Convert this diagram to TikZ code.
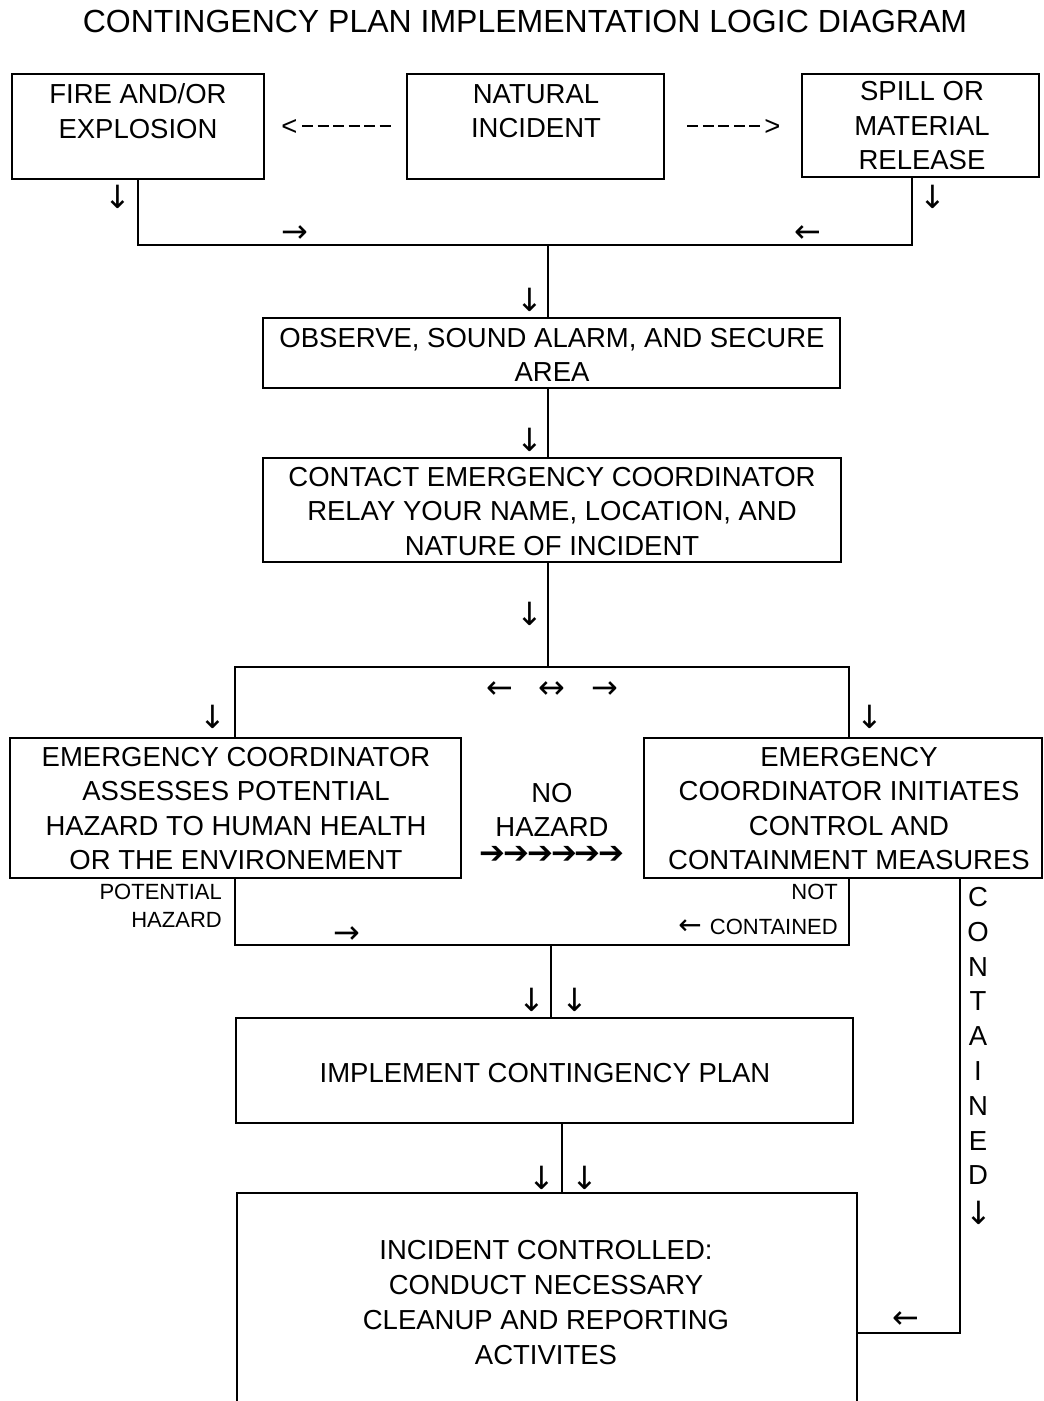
\documentclass[tikz,border=0pt]{standalone}
\usepackage{fontspec}
\setmainfont{Liberation Sans}
\newfontfamily\arrowfont{DejaVu Sans}
\newcommand{\dsh}{\kern4.5pt\rule[8pt]{11pt}{1.8pt}}
\begin{document}
\begin{tikzpicture}[x=1pt,y=-1pt,
  box/.style={draw, line width=1.6pt, inner sep=0pt},
  txt/.style={font=\fontsize{27.5}{34.5}\selectfont, align=center, inner sep=0pt},
  small/.style={font=\fontsize{22}{28}\selectfont, inner sep=0pt},
  arr/.style={font=\arrowfont\fontsize{32}{32}\selectfont, inner sep=0pt},
  conn/.style={line width=1.6pt}]
\useasboundingbox (0,0) rectangle (1044,1401);

% title
\node[font=\fontsize{32}{36}\selectfont, inner sep=0pt] (title) at (525,21) {CONTINGENCY PLAN IMPLEMENTATION LOGIC DIAGRAM};

% boxes
\node[box, minimum width=252, minimum height=105] (fire) at (138,126.5) {};
\node[box, minimum width=257, minimum height=105] (natural) at (535.5,126.5) {};
\node[box, minimum width=237, minimum height=103] (spill) at (920.5,125.5) {};
\node[box, minimum width=577, minimum height=70] (observe) at (551.5,353) {};
\node[box, minimum width=578, minimum height=104] (contact) at (552,510) {};
\node[box, minimum width=451, minimum height=140] (assess) at (235.5,808) {};
\node[box, minimum width=398, minimum height=140] (initiate) at (843,808) {};
\node[box, minimum width=617, minimum height=105] (implement) at (544.5,1070.5) {};
\node[box, minimum width=620, minimum height=230] (incident) at (547,1308) {};

% box texts
\node[txt] (firet) at (138,111) {FIRE AND/OR\\EXPLOSION};
\node[txt] (naturalt) at (536,111) {NATURAL\\INCIDENT};
\node[txt] (spillt) at (922,126) {SPILL OR\\MATERIAL\\RELEASE};
\node[txt] (observet) at (552,355) {OBSERVE, SOUND ALARM, AND SECURE\\AREA};
\node[txt] (contactt) at (552,511.5) {CONTACT EMERGENCY COORDINATOR\\RELAY YOUR NAME, LOCATION, AND\\NATURE OF INCIDENT};
\node[txt] (assesst) at (236,808.5) {EMERGENCY COORDINATOR\\ASSESSES POTENTIAL\\HAZARD TO HUMAN HEALTH\\OR THE ENVIRONEMENT};
\node[txt] (initiatet) at (849,808.5) {EMERGENCY\\COORDINATOR INITIATES\\CONTROL AND\\CONTAINMENT MEASURES};
\node[txt] (implementt) at (545,1073) {IMPLEMENT CONTINGENCY PLAN};
\node[txt, font=\fontsize{27.5}{35}\selectfont] (incidentt) at (546,1303) {INCIDENT CONTROLLED:\\CONDUCT NECESSARY\\CLEANUP AND REPORTING\\ACTIVITES};

% dashed text arrows
\node[txt] (dl) at (336,127) {<\dsh\dsh\dsh\dsh\dsh\dsh};
\node[txt] (dr) at (734,127) {\rule[8pt]{11pt}{1.8pt}\dsh\dsh\dsh\dsh\kern4pt>};

% labels
\node[txt] (nohaz) at (552,810) {NO\\HAZARD};
\node[font=\arrowfont\fontsize{31}{31}\selectfont, inner sep=0pt] (bold) at (552,855) {➔\kern-2pt➔\kern-2pt➔\kern-2pt➔\kern-2pt➔\kern-2pt➔};
\node[small, align=right, anchor=east] (pot) at (222,906) {POTENTIAL\\HAZARD};
\node[small, anchor=east] (nott) at (838,892) {NOT};
\node[small, anchor=east] (cont) at (838,927) {{\arrowfont\fontsize{28}{28}\selectfont ←}\kern8pt CONTAINED};
\node[txt, font=\fontsize{27.5}{34.8}\selectfont] (vert) at (978,1036) {C\\O\\N\\T\\A\\I\\N\\E\\D};
\node[arr] (vdown) at (979,1213) {↓};

% connector coordinates
\coordinate (j1) at (548,245);
\coordinate (sp) at (912,177);
\coordinate (j2) at (548,667);
\coordinate (a1) at (235,667);
\coordinate (b1) at (849,667);
\coordinate (a2) at (235,945);
\coordinate (b2) at (849,945);
\coordinate (j3) at (551,945);
\coordinate (j4) at (562,1123);
\coordinate (c1) at (960,878);
\coordinate (c2) at (960,1333);

% connectors
\draw[conn] (fire.south) |- (j1) -| (sp);
\draw[conn] (j1) -- (j1 |- observe.north);
\draw[conn] (j1 |- observe.south) -- (j1 |- contact.north);
\draw[conn] (j1 |- contact.south) -- (j2);
\draw[conn] (a1 |- assess.north) -- (a1) -- (b1) -- (b1 |- initiate.north);
\draw[conn] (a1 |- assess.south) -- (a2) -- (b2) -- (b1 |- initiate.south);
\draw[conn] (j3) -- (j3 |- implement.north);
\draw[conn] (j4) -- (j4 |- incident.north);
\draw[conn] (c1) -- (c2) -- (c2 -| incident.east);

% text arrows
\node[arr] (r1) at (118,197) {↓};
\node[arr] (r2) at (933,197) {↓};
\node[arr] (r3) at (295,234) {→};
\node[arr] (r4) at (808,234) {←};
\node[arr] (r5) at (530,300) {↓};
\node[arr] (r6) at (530,440) {↓};
\node[arr] (r7) at (530,614) {↓};
\node[arr] (r8) at (500,690) {←};
\node[arr] (r9) at (552,690) {↔};
\node[arr] (r10) at (605,690) {→};
\node[arr] (r11) at (213,717) {↓};
\node[arr] (r12) at (870,717) {↓};
\node[arr] (r13) at (347,935) {→};
\node[arr] (r14) at (532,1000) {↓};
\node[arr] (r15) at (575,1000) {↓};
\node[arr] (r16) at (542,1178) {↓};
\node[arr] (r17) at (585,1178) {↓};
\node[arr] (r18) at (906,1320) {←};
\end{tikzpicture}
\end{document}
